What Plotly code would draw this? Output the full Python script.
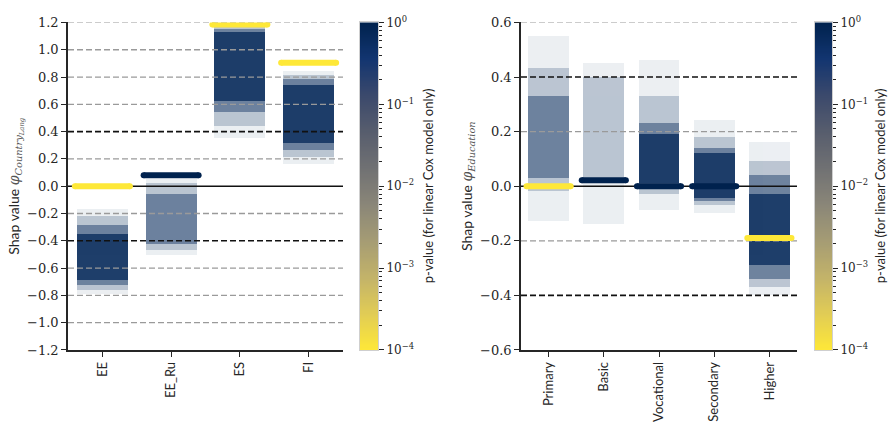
import numpy as np
import plotly.graph_objects as go
from plotly.colors import sample_colorscale

W, H = 893, 431

# ---------------- data ----------------
left_categories = ["EE", "EE_Ru", "ES", "FI"]
left_mean_shap = [0.0, 0.08, 1.185, 0.905]
left_pvalue = [1e-4, 1.0, 1e-4, 1e-4]
# SHAP cloud extents per density level: (low, high); None = level absent
left_sparse = [(-0.79, -0.17), (-0.51, 0.05), (0.35, 1.17), (0.16, 0.84)]
left_light = [(-0.76, -0.22), (-0.47, 0.02), (0.44, 1.16), (0.21, 0.81)]
left_medium = [(-0.73, -0.29), (-0.43, -0.06), (0.54, 1.15), (0.26, 0.78)]
left_dense = [(-0.69, -0.35), None, (0.62, 1.13), (0.31, 0.74)]

right_categories = ["Primary", "Basic", "Vocational", "Secondary", "Higher"]
right_mean_shap = [0.0, 0.022, 0.0, 0.0, -0.19]
right_pvalue = [1e-4, 1.0, 1.0, 1.0, 1e-4]
right_sparse = [(-0.13, 0.55), (-0.14, 0.45), (-0.09, 0.46), (-0.10, 0.24), (-0.40, 0.16)]
right_light = [(-0.02, 0.43), (0.01, 0.40), (-0.03, 0.33), (-0.07, 0.18), (-0.37, 0.09)]
right_medium = [(0.03, 0.33), None, (-0.01, 0.23), (-0.055, 0.14), (-0.34, 0.04)]
right_dense = [None, None, (0.01, 0.19), (-0.045, 0.12), (-0.29, -0.03)]

left_ticks = [-1.2, -1.0, -0.8, -0.6, -0.4, -0.2, 0.0, 0.2, 0.4, 0.6, 0.8, 1.0, 1.2]
right_ticks = [-0.6, -0.4, -0.2, 0.0, 0.2, 0.4, 0.6]
threshold_levels = [-0.4, 0.4]
zero_level = [0.0]
pvalue_decades = [-4, -3, -2, -1, 0]
cbar_title = "p-value (for linear Cox model only)"

# ---------------- style ----------------
TXT = "#262626"
NAVY = "rgb(16,50,96)"
SERIF = "DejaVu Serif, serif"
SANS = "Lato, sans-serif"
level_alpha = [0.08, 0.22, 0.45, 0.85]

def fmt(v):
    s = f"{abs(v):.1f}"
    return ("\u2212" + s) if v < 0 else s

def pcolor(p):
    t = 1 - (np.log10(p) + 4) / 4
    return sample_colorscale("cividis", [t])[0]

fig = go.Figure()

def add_panel(xa, ya, cats, means, pvals, levels, ticks):
    n = len(cats)
    idx = list(range(n))
    # clouds
    for lev, a in zip(levels, level_alpha):
        xs, bases, hs = [], [], []
        for i, r in zip(idx, lev):
            if r is None:
                continue
            xs.append(i); bases.append(r[0]); hs.append(r[1] - r[0])
        fig.add_trace(go.Bar(x=xs, y=hs, base=bases, width=0.74, xaxis=xa, yaxis=ya,
                             marker=dict(color=NAVY, line=dict(width=0)), opacity=a,
                             showlegend=False, hoverinfo="skip"))
    # grid lines
    xr = [-0.5, n - 0.5]
    for t in ticks:
        if t in threshold_levels or t in zero_level or t == ticks[0]:
            continue
        fig.add_trace(go.Scatter(x=xr, y=[t, t], mode="lines", xaxis=xa, yaxis=ya,
                                 line=dict(color="#9a9a9a", width=1.3, dash="6px,3px"),
                                 showlegend=False, hoverinfo="skip"))
    for t in threshold_levels:
        fig.add_trace(go.Scatter(x=xr, y=[t, t], mode="lines", xaxis=xa, yaxis=ya,
                                 line=dict(color="#111111", width=1.6, dash="6px,3px"),
                                 showlegend=False, hoverinfo="skip"))
    for t in zero_level:
        fig.add_trace(go.Scatter(x=xr, y=[t, t], mode="lines", xaxis=xa, yaxis=ya,
                                 line=dict(color="#111111", width=1.6),
                                 showlegend=False, hoverinfo="skip"))
    # mean bars
    for i, m, p in zip(idx, means, pvals):
        c = pcolor(p)
        fig.add_trace(go.Scatter(x=[i - 0.4, i + 0.4], y=[m, m], mode="lines+markers",
                                 xaxis=xa, yaxis=ya, line=dict(color=c, width=6),
                                 marker=dict(color=c, size=6, line=dict(width=0)),
                                 showlegend=False, hoverinfo="skip"))

def add_cbar(xa, ya):
    lv = np.linspace(-4, 0, 300)
    fig.add_trace(go.Heatmap(x=[0], y=lv, z=[[v] for v in lv], colorscale="cividis",
                             reversescale=True, zmin=-4, zmax=0, showscale=False,
                             xaxis=xa, yaxis=ya, hoverinfo="skip"))

add_panel("x", "y", left_categories, left_mean_shap, left_pvalue,
          [left_sparse, left_light, left_medium, left_dense], left_ticks)
add_cbar("x2", "y2")
add_panel("x3", "y3", right_categories, right_mean_shap, right_pvalue,
          [right_sparse, right_light, right_medium, right_dense], right_ticks)
add_cbar("x4", "y4")

ydom = [(H - 355) / H, (H - 14) / H]
minor_vals = [d + np.log10(k) for d in pvalue_decades[:-1] for k in range(2, 10)]

def main_x(dom, cats, anchor):
    return dict(domain=dom, range=[-0.5, len(cats) - 0.5], tickvals=list(range(len(cats))),
                ticktext=cats, tickangle=-90, ticks="outside", ticklen=5, tickwidth=1.3,
                tickcolor=TXT, showline=True, linecolor=TXT, linewidth=1.5, showgrid=False,
                zeroline=False, anchor=anchor, tickfont=dict(family=SANS, size=13, color=TXT),
                fixedrange=True)

def main_y(ticks, anchor, title):
    return dict(domain=ydom, range=[ticks[0], ticks[-1]], tickvals=ticks,
                ticktext=[fmt(t) for t in ticks], ticks="outside", ticklen=5, tickwidth=1.3,
                tickcolor=TXT, showline=True, linecolor=TXT, linewidth=1.5, showgrid=False,
                zeroline=False, anchor=anchor, tickfont=dict(family=SERIF, size=13, color=TXT),
                title=dict(text=title, standoff=4, font=dict(family=SANS, size=14, color=TXT)))

def cbar_x(dom, anchor):
    return dict(domain=dom, range=[-0.5, 0.5], showticklabels=False, ticks="", showgrid=False,
                zeroline=False, showline=True, mirror=True, linecolor="#cfcfcf", linewidth=1,
                anchor=anchor)

def cbar_y(anchor):
    return dict(domain=ydom, range=[-4, 0], side="right", anchor=anchor,
                tickvals=pvalue_decades,
                ticktext=[f"10<sup>{'\u2212' if d < 0 else ''}{abs(d)}</sup>" for d in pvalue_decades],
                ticks="outside", ticklen=5, tickwidth=1.3, tickcolor=TXT,
                minor=dict(tickvals=minor_vals, ticks="outside", ticklen=3, tickwidth=1, tickcolor=TXT),
                showline=True, mirror=True, linecolor="#cfcfcf", linewidth=1, showgrid=False,
                zeroline=False, tickfont=dict(family=SERIF, size=12, color=TXT))

phi = '<span style="font-family:DejaVu Serif;color:#555555"><i>\u03c6</i><sub><i>%s</i></sub></span>'
left_title = "Shap value " + phi % "Country<sub>Lang</sub>"
right_title = "Shap value " + phi % "Education"

ymid = (ydom[0] + ydom[1]) / 2
annotations = [
    dict(text=cbar_title, x=428 / W, y=ymid, xref="paper", yref="paper", textangle=-90,
         showarrow=False, xanchor="center", yanchor="middle",
         font=dict(family=SANS, size=13, color=TXT)),
    dict(text=cbar_title, x=880 / W, y=ymid, xref="paper", yref="paper", textangle=-90,
         showarrow=False, xanchor="center", yanchor="middle",
         font=dict(family=SANS, size=13, color=TXT)),
]

fig.update_layout(
    width=W, height=H, autosize=False, margin=dict(l=0, r=0, t=0, b=0),
    paper_bgcolor="white", plot_bgcolor="white", barmode="overlay", bargap=0,
    xaxis=main_x([68 / W, 343 / W], left_categories, "y"),
    yaxis=main_y(left_ticks, "x", left_title),
    xaxis2=cbar_x([360 / W, 378 / W], "y2"),
    yaxis2=cbar_y("x2"),
    xaxis3=main_x([521 / W, 797 / W], right_categories, "y3"),
    yaxis3=main_y(right_ticks, "x3", right_title),
    xaxis4=cbar_x([815 / W, 832 / W], "y4"),
    yaxis4=cbar_y("x4"),
    annotations=annotations,
)

fig.write_html("out.html",
               config={"displayModeBar": False},
               post_script="document.documentElement.style.margin='0';"
                           "document.body.style.margin='0';"
                           "document.body.style.overflow='hidden';")
